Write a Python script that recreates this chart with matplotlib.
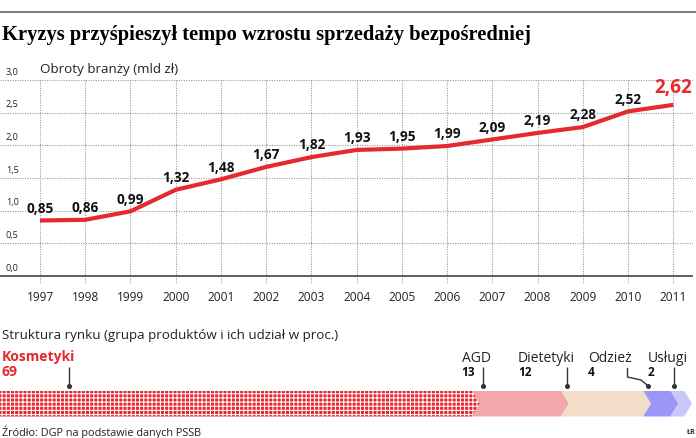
import matplotlib.pyplot as plt
from matplotlib.patches import Polygon

plt.rcParams['font.family'] = ['Open Sans', 'DejaVu Sans']
plt.rcParams['hatch.linewidth'] = 0.75

W, H = 696, 438

years = [1997, 1998, 1999, 2000, 2001, 2002, 2003, 2004, 2005, 2006, 2007, 2008, 2009, 2010, 2011]
values = [0.85, 0.86, 0.99, 1.32, 1.48, 1.67, 1.82, 1.93, 1.95, 1.99, 2.09, 2.19, 2.28, 2.52, 2.62]
yticks = [0.0, 0.5, 1.0, 1.5, 2.0, 2.5, 3.0]

categories = ['Kosmetyki', 'AGD', 'Dietetyki', 'Odzież', 'Usługi']
shares = [69, 13, 12, 4, 2]
seg_colors = ['#e5292e', '#f1a7ab', '#f2ddc8', '#9c97f6', '#cac8fb']

RED = '#e5292e'


def fr(x0, y0, x1, y1):
    # pixel box (top-left origin) -> figure fraction rect
    return [x0 / W, 1 - y1 / H, (x1 - x0) / W, (y1 - y0) / H]


def fmt(v, n=2):
    return f'{v:.{n}f}'.replace('.', ',')


fig = plt.figure(figsize=(W / 100, H / 100), dpi=100)

# top rule + title
fig.add_artist(plt.Line2D([0, 1], [1 - 12 / H] * 2, color='#7a7a7a', lw=1.4))
fig.text(2 / W, 1 - 35 / H, 'Kryzys przyśpieszył tempo wzrostu sprzedaży bezpośredniej',
         family='Liberation Serif', weight='bold', fontsize=14.8, va='center', ha='left')

# ---- line chart
s = (673.3 - 40) / 14
ax = fig.add_axes(fr(0, 79.7, 693, 284))
ax.set_xlim(years[0] - 40 / s, years[-1] + (693 - 673.3) / s)
ax.set_ylim(-8 / 65.33, 3.005)
for sp in ax.spines.values():
    sp.set_visible(False)
ax.set_yticks(yticks)
ax.set_yticklabels([])
ax.tick_params(axis='y', length=0)
ax.set_xticks(years)
ax.set_xticklabels([str(y) for y in years], fontsize=8.6, color='#222')
ax.tick_params(axis='x', length=0, pad=5)
ax.grid(True, linestyle=(0, (1, 1.2)), color='#9a9a9a', lw=0.8)
ax.axhline(0, color='#555', lw=1.3, zorder=3)

for t in yticks:
    ax.annotate(fmt(t, 1), xy=(6 / 693, t), xycoords=('axes fraction', 'data'),
                xytext=(0, 2.5), textcoords='offset points', fontsize=6.6,
                ha='left', va='bottom', color='#222')

ax.text(40 / 693, 1 + 10 / 204, 'Obroty branży (mld zł)', transform=ax.transAxes,
        fontsize=9.6, ha='left', va='center', color='#222')

ax.plot(years, values, color=RED, lw=3.0, solid_capstyle='butt', solid_joinstyle='round', zorder=4)

for i, (x, v) in enumerate(zip(years, values)):
    last = i == len(values) - 1
    ax.annotate(fmt(v), xy=(x, v), xytext=(0, 12 if last else 8.5), textcoords='offset points',
                ha='center', va='center', fontsize=13.5 if last else 9.8, weight='bold',
                color=RED if last else '#111', zorder=5)

# ---- structure bar
fig.text(2 / W, 1 - 336 / H, 'Struktura rynku (grupa produktów i ich udział w proc.)',
         fontsize=9.6, ha='left', va='center', color='#222')

d = 1.15
bx = fig.add_axes(fr(0, 390.5, 692, 416.5))
bx.set_xlim(0, 100 + d)
bx.set_ylim(0, 1)
bx.axis('off')

start = 0
starts = []
for i, (sh, c) in enumerate(zip(shares, seg_colors)):
    a, b = start, start + sh
    pts = [(a, 0), (b, 0), (b + d, 0.5), (b, 1), (a, 1)]
    if i > 0:
        pts.append((a + d, 0.5))
    if i == 0:
        p = Polygon(pts, closed=True, facecolor=c, edgecolor='white', lw=0, hatch='++++')
    else:
        p = Polygon(pts, closed=True, facecolor=c, edgecolor='none', lw=0)
    bx.add_patch(p)
    starts.append(a)
    start = b

px = (100 + d) / 692  # share units per pixel

# leader lines drawn in a full-figure overlay axes (pixel coords)
ov = fig.add_axes([0, 0, 1, 1], zorder=10)
ov.set_xlim(0, W)
ov.set_ylim(H, 0)
ov.axis('off')

name_x = [2, 461.7, 518, 588, 648]
lead_x = [68.3, starts[1] / px + 10, starts[2] / px + 5, None, starts[4] / px + 3]
for i, cat in enumerate(categories):
    if i == 0:
        ov.text(name_x[i], 357, cat, fontsize=10, weight='bold', color=RED, ha='left', va='center')
        ov.text(name_x[i], 371.5, str(shares[i]), fontsize=10, weight='bold', color=RED,
                ha='left', va='center')
    else:
        ov.text(name_x[i], 358, cat, fontsize=10, color='#222', ha='left', va='center')
        ov.text(name_x[i], 372, str(shares[i]), fontsize=8.6, weight='bold', color='#111',
                ha='left', va='center')

    if lead_x[i] is not None:
        xs = [round(lead_x[i]) + 0.5] * 2
        ys = [367, 385.5]
    else:
        xs = [627.5, 627.5, 641, 647.7]
        ys = [368, 377, 380, 385.5]
    ov.plot(xs, ys, color='#333', lw=1.0, solid_capstyle='butt')
    ov.plot(xs[-1], ys[-1], marker='o', ms=2.6, color='#333')

ov.text(2, 432, 'Źródło: DGP na podstawie danych PSSB', fontsize=7.8,
        ha='left', va='center', color='#222')
ov.text(686, 433, 'ŁR', fontsize=5.2, weight='bold', ha='left', va='center', color='#333')

fig.savefig('out.png', dpi=100)
